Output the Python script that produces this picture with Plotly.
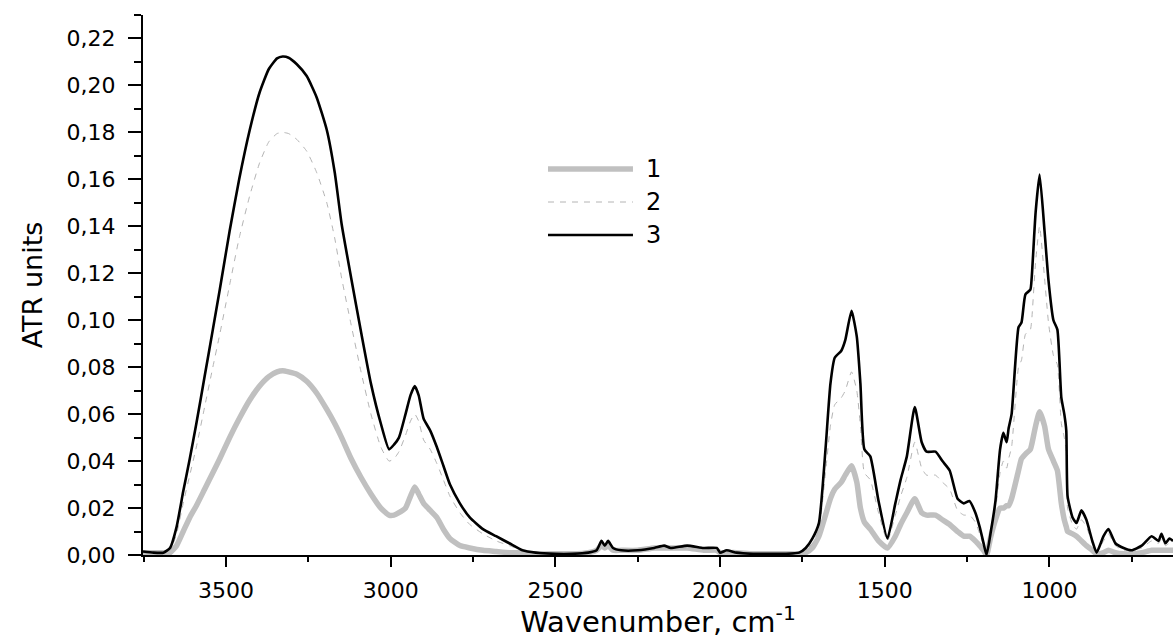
import plotly.graph_objects as go

wavenumber = [3752, 3720, 3690, 3670, 3650, 3630, 3610, 3590, 3565, 3540,
              3519, 3489, 3460, 3428, 3398, 3370, 3345, 3328, 3310, 3285,
              3255, 3225, 3194, 3170, 3149, 3120, 3090, 3060, 3030, 3005,
              2990, 2975, 2955, 2940, 2927, 2915, 2900, 2880, 2860, 2840,
              2820, 2790, 2760, 2720, 2680, 2640, 2600, 2560, 2500, 2450,
              2400, 2375, 2360, 2350, 2340, 2325, 2300, 2250, 2200, 2170,
              2150, 2100, 2050, 2010, 2000, 1980, 1950, 1900, 1850, 1800,
              1760, 1740, 1720, 1700, 1680, 1665, 1652, 1632, 1620, 1601,
              1585, 1574, 1562, 1544, 1519, 1492, 1468, 1452, 1433, 1409,
              1388, 1373, 1346, 1325, 1303, 1279, 1260, 1243, 1225, 1212,
              1200, 1191, 1178, 1164, 1150, 1140, 1130, 1124, 1115, 1094,
              1085, 1073, 1058, 1054, 1042, 1030, 1015, 1003, 988, 976,
              964, 955, 949, 945, 930, 918, 903, 888, 870, 857,
              836, 821, 800, 775, 751, 720, 690, 669, 660, 648,
              636, 625]

series1 = [.001, .001, .001, .001, .004, .010, .016, .021, .028, .035,
           .041, .050, .058, .066, .072, .076, .078, .0785, .078, .077,
           .074, .069, .062, .056, .050, .041, .033, .026, .020, .017,
           .017, .018, .020, .025, .029, .026, .022, .019, .016, .011,
           .007, .004, .003, .002, .0015, .001, .001, .0005, .0005, .0005,
           .001, .002, .004, .003, .004, .002, .002, .002, .003, .003,
           .003, .003, .002, .002, .001, .001, .001, .0005, .0005, .0005,
           .0005, .001, .003, .008, .017, .024, .028, .031, .034, .038,
           .031, .020, .014, .011, .006, .003, .008, .013, .018, .024,
           .018, .017, .017, .015, .013, .010, .008, .008, .006, .004,
           .002, .000, .008, .015, .020, .020, .021, .021, .024, .036,
           .041, .043, .045, .047, .055, .061, .055, .045, .040, .036,
           .022, .015, .012, .010, .009, .008, .006, .004, .002, .0005,
           .001, .002, .001, .0005, .0005, .001, .002, .002, .002, .002,
           .002, .002]

series2 = [.001, .001, .001, .002, .009, .022, .034, .046, .063, .080,
           .094, .115, .135, .153, .167, .176, .1795, .180, .1795, .177,
           .172, .163, .150, .135, .118, .098, .078, .060, .046, .040,
           .041, .044, .051, .057, .060, .057, .049, .045, .039, .032,
           .025, .018, .013, .009, .006, .004, .002, .001, .0005, .0005,
           .001, .002, .005, .004, .005, .003, .002, .002, .003, .003,
           .003, .003, .003, .002, .001, .001, .001, .0005, .0005, .0005,
           .001, .002, .005, .011, .035, .055, .064, .067, .070, .078,
           .070, .055, .035, .032, .018, .006, .017, .025, .033, .048,
           .037, .034, .034, .031, .028, .019, .017, .017, .014, .009,
           .004, .000, .008, .019, .035, .040, .037, .041, .046, .080,
           .083, .094, .096, .100, .125, .140, .118, .099, .085, .081,
           .056, .050, .044, .020, .013, .011, .015, .012, .005, .001,
           .006, .009, .004, .002, .002, .003, .006, .005, .007, .004,
           .005, .005]

series3 = [.0015, .001, .001, .003, .012, .027, .041, .056, .076, .096,
           .113, .138, .160, .181, .197, .207, .2115, .2123, .2118, .209,
           .204, .195, .181, .163, .141, .118, .095, .073, .056, .045,
           .047, .050, .060, .068, .072, .068, .058, .053, .046, .038,
           .030, .022, .016, .011, .008, .005, .002, .001, .0005, .0005,
           .001, .002, .006, .004, .006, .003, .002, .002, .003, .004,
           .003, .004, .003, .003, .001, .002, .001, .0005, .0005, .0005,
           .001, .003, .007, .0136, .045, .073, .084, .087, .0915, .104,
           .093, .073, .045, .042, .023, .007, .022, .032, .042, .063,
           .048, .044, .044, .040, .036, .024, .022, .023, .018, .012,
           .005, .000, .010, .023, .045, .052, .048, .054, .060, .097,
           .099, .111, .113, .118, .146, .162, .138, .117, .100, .096,
           .067, .060, .053, .025, .016, .0136, .019, .015, .006, .001,
           .008, .011, .005, .003, .002, .004, .008, .006, .009, .005,
           .007, .006]

series_names = ["1", "2", "3"]
x_tickvals = [3500, 3000, 2500, 2000, 1500, 1000]
y_tickvals = [0.00, 0.02, 0.04, 0.06, 0.08, 0.10, 0.12, 0.14, 0.16, 0.18, 0.20, 0.22]

FONT = "DejaVu Sans"

styles = [
    dict(color="#c0c0c0", width=5.5),
    dict(color="#b4b4b4", width=1, dash="6px,6px"),
    dict(color="#000000", width=2.6),
]

fig = go.Figure()
for name, ys, st in zip(series_names, [series1, series2, series3], styles):
    fig.add_trace(go.Scatter(
        x=wavenumber, y=ys, mode="lines", name=name, showlegend=False,
        line=dict(shape="spline", smoothing=0.5, **st),
    ))

# custom legend (long line samples as in the original)
leg_y = [0.7148, 0.6537, 0.5926]
for name, st, yy in zip(series_names, styles, leg_y):
    fig.add_shape(type="line", xref="paper", yref="paper",
                  x0=0.3932, x1=0.4757, y0=yy, y1=yy,
                  line=dict(color=st["color"], width=st["width"], dash=st.get("dash", "solid")))
    fig.add_annotation(xref="paper", yref="paper", x=0.4864, y=yy, text=name,
                       showarrow=False, xanchor="left", yanchor="middle",
                       font=dict(family=FONT, size=24, color="black"))

fig.update_layout(
    width=1173, height=639,
    margin=dict(l=143, r=0, t=15, b=84),
    paper_bgcolor="white", plot_bgcolor="white",
    separators=", ",
    font=dict(family=FONT, color="black"),
)

fig.update_xaxes(
    range=[3752, 625],
    tickvals=x_tickvals,
    ticks="outside", ticklen=10, tickwidth=2, tickcolor="black",
    minor=dict(dtick=250, ticks="outside", ticklen=5, tickwidth=2, tickcolor="black"),
    showline=True, linewidth=2, linecolor="black",
    showgrid=False, zeroline=False,
    tickfont=dict(family=FONT, size=22),
    ticklabelstandoff=5,
    title=dict(text="Wavenumber, cm<sup>-1</sup>", font=dict(family=FONT, size=29), standoff=14),
)
fig.update_yaxes(
    range=[0, 0.23],
    tickvals=y_tickvals, tickformat=".2f",
    ticks="outside", ticklen=13, tickwidth=2, tickcolor="black",
    minor=dict(dtick=0.01, ticks="outside", ticklen=7, tickwidth=2, tickcolor="black"),
    showline=True, linewidth=2, linecolor="black",
    showgrid=False, zeroline=False,
    tickfont=dict(family=FONT, size=22),
    ticklabelstandoff=8,
    title=dict(text="ATR units", font=dict(family=FONT, size=27), standoff=16),
)

fig.write_html("out.html")
